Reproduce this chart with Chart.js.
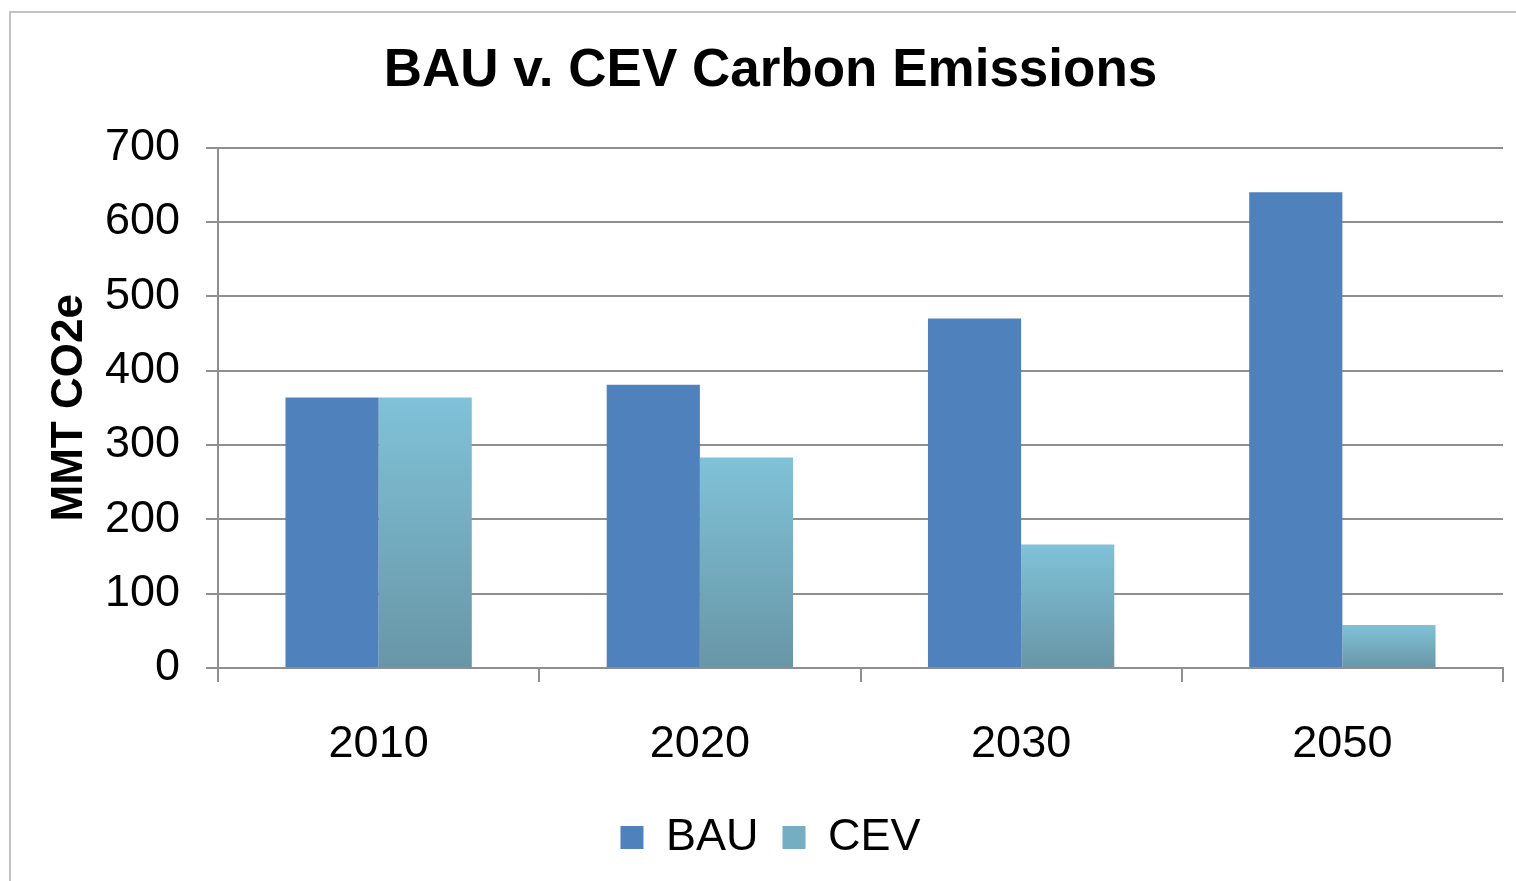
<!DOCTYPE html>
<html>
<head>
<meta charset="utf-8">
<script src="https://cdn.jsdelivr.net/npm/chart.js@4/dist/chart.umd.min.js"></script>
<style>
  html, body { margin: 0; padding: 0; background: #fff; overflow: hidden; }
  #wrap { position: absolute; left: 0; top: 0; width: 1516px; height: 881px; }
  #frame { position: absolute; left: 9px; top: 11px; width: 1600px; height: 1000px; border: 2px solid #c2c2c2; box-sizing: border-box; pointer-events: none; }
  canvas { position: absolute; left: 0; top: 0; }
</style>
</head>
<body>
<div id="wrap">
  <canvas id="c" width="1516" height="881"></canvas>
  <div id="frame"></div>
</div>
<script>
const categories = ['2010', '2020', '2030', '2050'];
const bauValues = [364, 381, 470, 640];
const cevValues = [364, 283, 166, 58];
const yTicks = [0, 100, 200, 300, 400, 500, 600, 700];
const seriesNames = ['BAU', 'CEV'];
const titleText = 'BAU v. CEV Carbon Emissions';
const yTitle = 'MMT CO2e';

const FONT = "'Liberation Sans', Arial, sans-serif";
const BAU_COLOR = '#4f81bd';
const GRID = '#8f8f8f';

function cevGradient(ctx) {
  const chart = ctx.chart;
  const area = chart.chartArea;
  if (!area || ctx.type !== 'data') return '#79b4c8';
  const ys = chart.scales.y;
  const top = ys.getPixelForValue(ctx.raw);
  const bot = ys.getPixelForValue(0);
  const g = chart.ctx.createLinearGradient(0, top, 0, bot);
  g.addColorStop(0, '#80c2d8');
  g.addColorStop(1, '#6896a6');
  return g;
}

new Chart(document.getElementById('c'), {
  type: 'bar',
  data: {
    labels: categories,
    datasets: [
      { label: seriesNames[0], data: bauValues, backgroundColor: BAU_COLOR, borderWidth: 0 },
      { label: seriesNames[1], data: cevValues, backgroundColor: cevGradient, borderWidth: 0 }
    ]
  },
  options: {
    responsive: false,
    animation: false,
    devicePixelRatio: 1,
    datasets: { bar: { categoryPercentage: 0.58, barPercentage: 1.0 } },
    layout: { padding: { left: 38, right: 13, top: 0, bottom: 11 } },
    plugins: {
      tooltip: { enabled: false },
      title: {
        display: true,
        text: titleText,
        color: '#000',
        font: { family: FONT, size: 53, weight: 'bold', lineHeight: 1.2 },
        padding: { top: 40, bottom: 44 }
      },
      legend: {
        position: 'bottom',
        labels: {
          color: '#000',
          font: { family: FONT, size: 45 },
          boxWidth: 23,
          boxHeight: 23,
          padding: 24,
          generateLabels: () => [
            { text: seriesNames[0], fillStyle: BAU_COLOR, strokeStyle: BAU_COLOR, lineWidth: 0, datasetIndex: 0 },
            { text: seriesNames[1], fillStyle: '#75aec2', strokeStyle: '#75aec2', lineWidth: 0, datasetIndex: 1 }
          ]
        }
      }
    },
    scales: {
      x: {
        offset: true,
        afterFit: (s) => { s.height = 123; },
        grid: { display: true, drawOnChartArea: false, drawTicks: true, tickLength: 14, offset: true, color: GRID, lineWidth: 2 },
        border: { display: true, color: GRID, width: 2 },
        ticks: { color: '#000', font: { family: FONT, size: 45 }, padding: 36 }
      },
      y: {
        min: 0,
        max: 700,
        afterBuildTicks: (s) => { s.ticks = yTicks.map(v => ({ value: v })); },
        afterFit: (s) => { s.width = 180; },
        grid: { color: GRID, lineWidth: 2, tickLength: 12 },
        border: { display: true, color: GRID, width: 2 },
        ticks: { color: '#000', font: { family: FONT, size: 45 }, padding: 26 },
        title: {
          display: true,
          text: yTitle,
          color: '#000',
          font: { family: FONT, size: 44, weight: 'bold', lineHeight: 1.2 },
          padding: { top: 5, bottom: 0 }
        }
      }
    }
  }
});
</script>
</body>
</html>
